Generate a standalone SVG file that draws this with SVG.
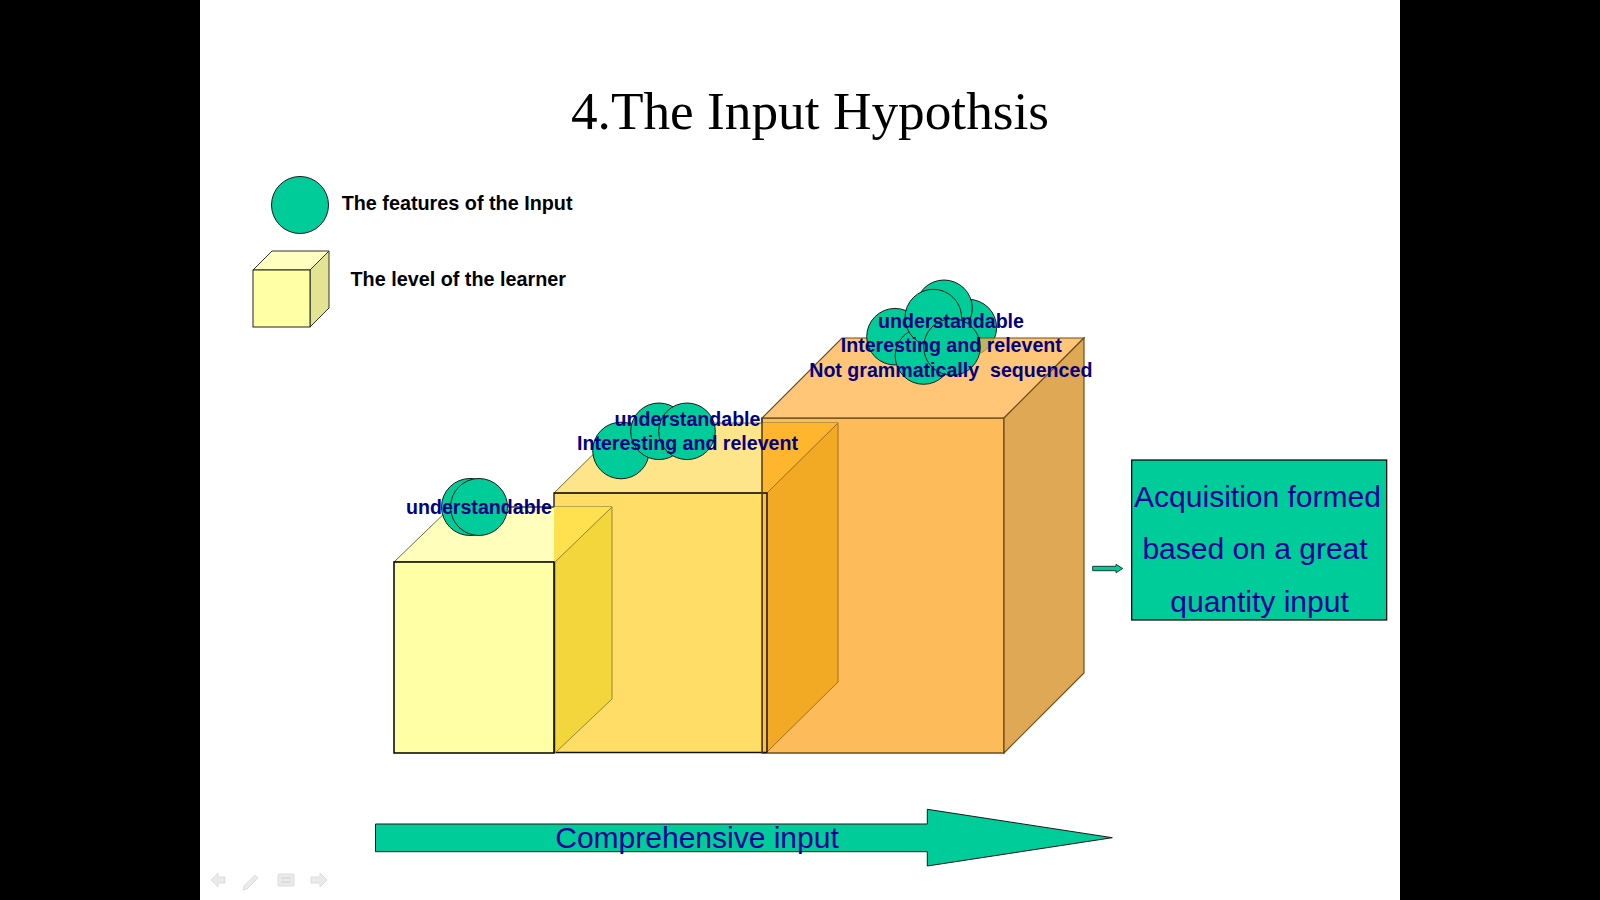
<svg xmlns="http://www.w3.org/2000/svg" width="1600" height="900" viewBox="0 0 1600 900">
<style>
.bold{font-family:"Liberation Sans",Arial,sans-serif;font-weight:bold;font-size:19.6px;fill:#000080;text-anchor:middle}
.legend{font-family:"Liberation Sans",Arial,sans-serif;font-weight:bold;font-size:19.8px;fill:#000}
.plain{font-family:"Liberation Sans",Arial,sans-serif;font-size:30px;fill:#000099;text-anchor:middle}
.dot{fill:#00CC99;stroke:#1a1a1a;stroke-width:1}
.nav{fill:#EAEAEA;stroke:#DDDDDD;stroke-width:1}
</style>
<rect x="0" y="0" width="1600" height="900" fill="#000"/>
<rect x="200" y="0" width="1200" height="900" fill="#fff"/>

<g id="title">
<text x="810" y="128.5" font-family="Liberation Serif,'Times New Roman',serif" font-size="53.3" text-anchor="middle" fill="#000">4.The Input Hypothsis</text>
</g>

<g id="legend-features">
<circle class="dot" cx="300" cy="205" r="28.5"/>
<text class="legend" x="341.7" y="210">The features of the Input</text>
</g>

<g id="legend-level">
<polygon points="253,270 272,251 329,251 310,270" fill="#FFFFBF" stroke="#333" stroke-width="1"/>
<polygon points="310,270 329,251 329,308 310,327" fill="#E3E394" stroke="#333" stroke-width="1"/>
<rect x="253" y="270" width="57" height="57" fill="#FFFFA5" stroke="#222" stroke-width="1"/>
<text class="legend" x="350.5" y="286">The level of the learner</text>
</g>

<g id="cube-large">
<circle class="dot" cx="968.3" cy="327.6" r="28.3"/>
<rect x="762" y="418" width="242" height="335" fill="#FDBB59" stroke="#6B4E1E" stroke-width="1.5"/>
<polygon points="762,418 842,338 1084,338 1004,418" fill="#FFB043" fill-opacity="0.72" stroke="#6B4E1E" stroke-width="1.2"/>
<polygon points="1004,418 1084,338 1084,673 1004,753" fill="#DEA855" stroke="#6B4E1E" stroke-width="1.2"/>
</g>

<g id="cube-medium">
<rect x="554" y="493" width="208" height="259.5" fill="#FFDD66"/>
<polygon points="554,493 625,423 838,423 767,493" fill="#FFE58A" stroke="#7A6A2A" stroke-width="1"/>
<polygon points="762,423 838,423 767,493 762,493" fill="#FFB52E"/>
<polygon points="767,493 838,423 838,682 767,752" fill="#F2AA24" stroke="#A07020" stroke-width="1"/>
<polyline points="554,752.5 554,493 767,493 767,752.5" fill="none" stroke="#111" stroke-width="1.3"/>
<line x1="554" y1="752.5" x2="767" y2="752.5" stroke="#111" stroke-width="1.3"/>
<line x1="762" y1="418" x2="762" y2="753" stroke="#4E3A18" stroke-width="1.5"/>
</g>

<g id="cube-small">
<polygon points="394,562 451,507 612,507 555,562" fill="#FFFFBB" stroke="#6E6A3A" stroke-width="1"/>
<polygon points="554,507 612,507 555,562 554,562" fill="#FFE04F"/>
<polygon points="555,562 612,507 612,699 555,753" fill="#F3D53C" stroke="#9A8530" stroke-width="1"/>
<rect x="394" y="562" width="160" height="191" fill="#FFFFA5" stroke="#000" stroke-width="1.5"/>
</g>

<g id="features-small">
<circle class="dot" cx="470" cy="507" r="28.5"/>
<circle class="dot" cx="479" cy="507" r="28.5"/>
<line x1="507" y1="507" x2="554" y2="507" stroke="#333" stroke-width="1"/>
<text class="bold" x="479" y="514">understandable</text>
</g>

<g id="features-medium">
<circle class="dot" cx="621" cy="450.5" r="28.3"/>
<circle class="dot" cx="659" cy="431.3" r="28.3"/>
<circle class="dot" cx="687" cy="431.3" r="28.3"/>
<text class="bold" x="687.5" y="425.7">understandable</text>
<text class="bold" x="687.5" y="450">Interesting and relevent</text>
</g>

<g id="features-large">
<circle class="dot" cx="944" cy="308.3" r="28.3"/>
<circle class="dot" cx="895" cy="336.7" r="28.3"/>
<circle class="dot" cx="923.5" cy="356" r="28.3"/>
<circle class="dot" cx="933.3" cy="317.6" r="28.3"/>
<circle class="dot" cx="952" cy="347" r="28.3"/>
<text class="bold" x="951" y="328.3">understandable</text>
<text class="bold" x="951.3" y="352.3">Interesting and relevent</text>
<text class="bold" x="950.8" y="376.7">Not grammatically&#160; sequenced</text>
</g>

<g id="result-box">
<rect x="1131.7" y="460" width="255" height="160" fill="#00CC99" stroke="#000" stroke-width="1.2"/>
<text class="plain" x="1257.5" y="506.7">Acquisition formed</text>
<text class="plain" x="1255" y="558.5">based on a great</text>
<text class="plain" x="1259.5" y="611.5">quantity input</text>
</g>

<g id="comprehensive-input">
<polygon points="375.5,824 927.3,824 927.3,809.3 1112.3,837.7 927.3,866 927.3,851.7 375.5,851.7" fill="#00CC99" stroke="#1a1a1a" stroke-width="1"/>
<text class="plain" x="697" y="848">Comprehensive input</text>
</g>

<g id="connectors">
<polygon points="1092.7,566.3 1116,566.3 1116,564.3 1122.7,568.5 1116,572.7 1116,570.7 1092.7,570.7" fill="#00CC99" stroke="#1a3a30" stroke-width="1"/>
</g>

<g id="slide-nav">
<polygon class="nav" points="211,880 218,873 218,877 225,877 225,883 218,883 218,887"/>
<polygon class="nav" points="244,886 255,875 258,878 247,889 243,890"/>
<rect class="nav" x="278" y="874" width="16" height="12" rx="1"/>
<line x1="281" y1="878" x2="291" y2="878" stroke="#D0D0D0" stroke-width="1"/>
<line x1="281" y1="882" x2="291" y2="882" stroke="#D0D0D0" stroke-width="1"/>
<polygon class="nav" points="327,880 320,873 320,877 311,877 311,883 320,883 320,887"/>
</g>
</svg>
